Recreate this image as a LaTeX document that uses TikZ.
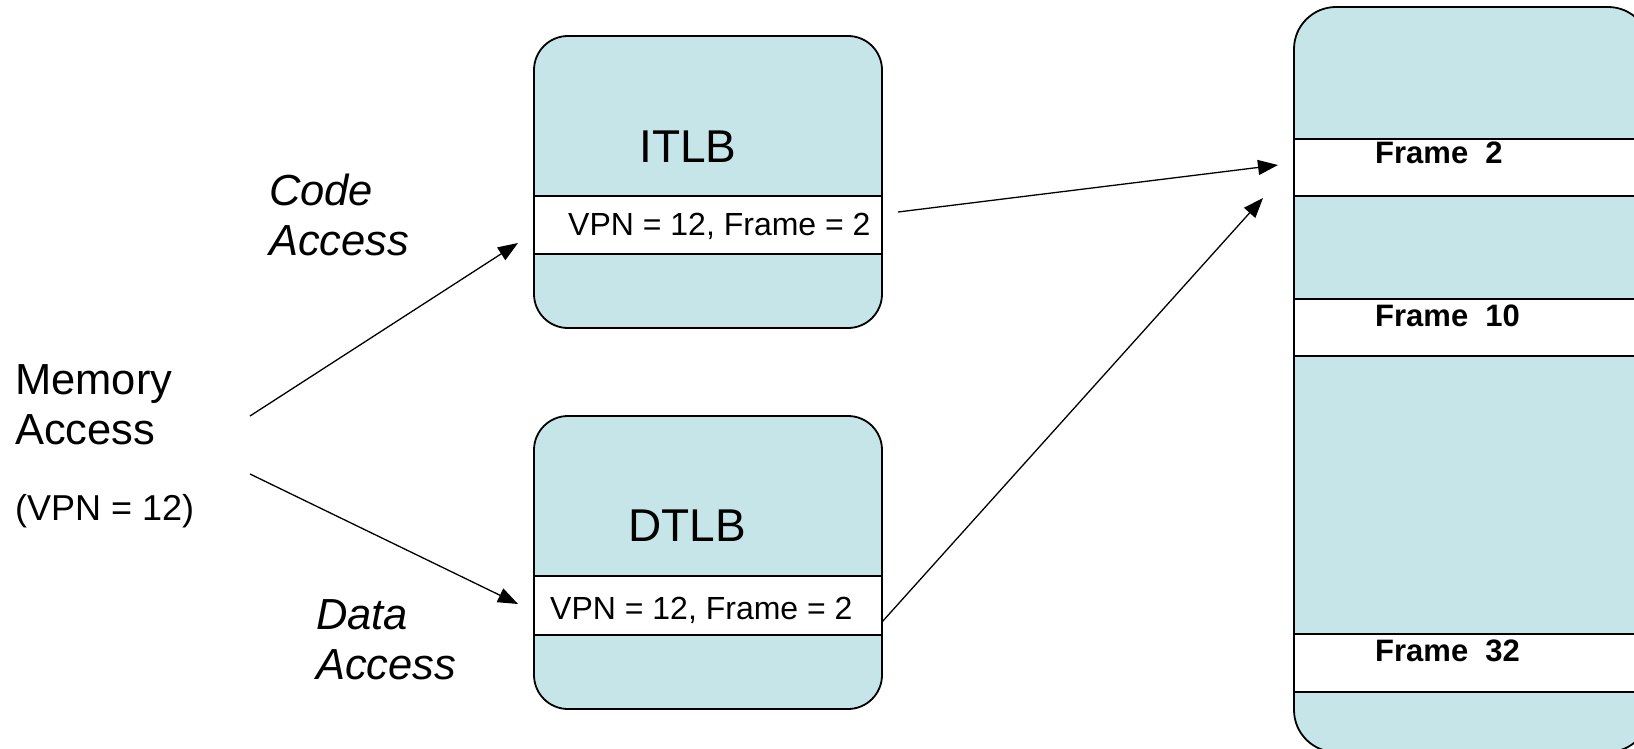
\documentclass[tikz,border=0pt]{standalone}
\usepackage{fontspec}
\setmainfont{Liberation Sans}
\usetikzlibrary{arrows.meta}
\definecolor{boxfill}{RGB}{198,229,232}
\begin{document}
\begin{tikzpicture}[x=1pt,y=-1pt,
  box/.style={draw=black, line width=1.8pt, fill=boxfill, rounded corners=34pt, inner sep=0pt},
  rowbox/.style={draw=black, line width=1.5pt, fill=white, inner sep=0pt},
  arr/.style={line width=1.3pt, -{Triangle[length=20pt,width=15pt]}},
  big/.style={font=\fontsize{43.5}{50}\selectfont, inner sep=0pt},
  mid/.style={font=\fontsize{36}{42}\selectfont, inner sep=0pt},
  small/.style={font=\fontsize{32}{37}\selectfont, inner sep=0pt},
  frm/.style={font=\fontsize{31}{36}\selectfont\bfseries, inner sep=0pt},
  tlbname/.style={font=\fontsize{46}{52}\selectfont, inner sep=0pt}
]
\useasboundingbox (0,0) rectangle (1634,749);

% ITLB
\node[box, minimum width=348pt, minimum height=292pt] (itlb) at (708,182) {};
\node[rowbox, minimum width=348pt, minimum height=58pt] (itlbrow) at (708,225) {};
\node[tlbname] (itlbname) at (688,147) {ITLB};
\node[small, anchor=west] (itlbvpn) at (568,226) {VPN = 12, Frame = 2};

% DTLB
\node[box, minimum width=348pt, minimum height=293pt] (dtlb) at (708,562.5) {};
\node[rowbox, minimum width=348pt, minimum height=59pt] (dtlbrow) at (708,605.5) {};
\node[tlbname] (dtlbname) at (687,526) {DTLB};
\node[small, anchor=west] (dtlbvpn) at (550,610) {VPN = 12, Frame = 2};

% Physical memory
\begin{scope}
\clip (0,0) rectangle (1634,749);
\node[box, rounded corners=42pt, minimum width=356pt, minimum height=745pt] (pmem) at (1472,379.5) {};
\node[rowbox, minimum width=356pt, minimum height=57pt] (f2) at (1472,167.5) {};
\node[rowbox, minimum width=356pt, minimum height=57pt] (f10) at (1472,327.5) {};
\node[rowbox, minimum width=356pt, minimum height=58pt] (f32) at (1472,663) {};
\end{scope}
\node[frm, anchor=west] (f2t) at (1375,153) {Frame~~2};
\node[frm, anchor=west] (f10t) at (1375,316) {Frame~~10};
\node[frm, anchor=west] (f32t) at (1375,651) {Frame~~32};

% Left labels
\node[big, align=left, anchor=west] (mem) at (15,405) {Memory\\Access};
\node[mid, anchor=west] (vpn) at (15,511) {(VPN = 12)};
\node[big, align=left, anchor=west, font=\fontsize{43.5}{50}\selectfont\itshape] (code) at (269,215) {Code\\Access};
\node[big, align=left, anchor=west, font=\fontsize{43.5}{50}\selectfont\itshape] (data) at (316,640) {Data\\Access};

% Connectors
\coordinate (m1) at (250,416);
\coordinate (m2) at (250,474);
\coordinate (i1) at (518,243);
\coordinate (d1) at (518,604);
\coordinate (i2) at (898,212);
\coordinate (d2) at (882,622);
\coordinate (p1) at (1278,165);
\coordinate (p2) at (1263,198);
\draw[arr] (m1) -- (i1);
\draw[arr] (m2) -- (d1);
\draw[arr] (i2) -- (p1);
\draw[arr] (d2) -- (p2);
\end{tikzpicture}
\end{document}
